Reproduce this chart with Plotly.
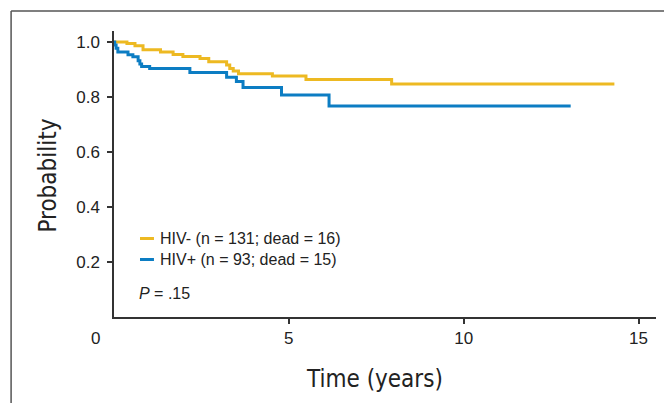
import plotly.graph_objects as go

# Kaplan-Meier step data
hiv_neg_t = [0.0, 0.37, 0.60, 0.83, 1.33, 1.69, 1.97, 2.46, 2.71, 3.22, 3.31, 3.41, 3.56, 4.53, 5.49, 7.94, 14.31]
hiv_neg_p = [1.0, 0.995, 0.986, 0.972, 0.964, 0.955, 0.947, 0.940, 0.928, 0.916, 0.904, 0.895, 0.885, 0.876, 0.864, 0.847, 0.847]

hiv_pos_t = [0.0, 0.02, 0.06, 0.11, 0.40, 0.54, 0.69, 0.74, 0.79, 1.02, 2.17, 3.22, 3.50, 3.69, 4.79, 6.15, 13.06]
hiv_pos_p = [1.0, 0.989, 0.977, 0.964, 0.954, 0.946, 0.932, 0.920, 0.911, 0.904, 0.889, 0.872, 0.856, 0.835, 0.807, 0.767, 0.767]

series_names = ["HIV- (n = 131; dead = 16)", "HIV+ (n = 93; dead = 15)"]
series_colors = ["#EDB922", "#0C7DC3"]

x_ticks = [5, 10, 15]
y_ticks = [0.2, 0.4, 0.6, 0.8, 1.0]
y_tick_labels = ["0.2", "0.4", "0.6", "0.8", "1.0"]

x_title = "Time (years)"
y_title = "Probability"
p_text = "<i>P</i> = .15"

W, H = 664, 403
ML, MR, MT, MB = 114, 7.5, 31, 86
pw = W - ML - MR
ph = H - MT - MB

def px_x(px):
    return (px - ML) / pw

def px_y(py):
    return (H - MB - py) / ph

fig = go.Figure()
for t, p, name, col in [(hiv_neg_t, hiv_neg_p, series_names[0], series_colors[0]),
                        (hiv_pos_t, hiv_pos_p, series_names[1], series_colors[1])]:
    fig.add_trace(go.Scatter(x=t, y=p, mode="lines", line=dict(shape="hv", color=col, width=3),
                             name=name, showlegend=False, hoverinfo="skip"))

axis_col = "#333333"
tick_font = dict(family="Liberation Sans, Arial, sans-serif", size=17, color="#222222")

fig.update_layout(
    width=W, height=H,
    margin=dict(l=ML, r=MR, t=MT, b=MB, pad=0),
    paper_bgcolor="white", plot_bgcolor="white",
    xaxis=dict(range=[0, 15.5], tickvals=x_ticks, ticks="outside", ticklen=5, tickwidth=1.5,
               tickcolor=axis_col, showline=True, linecolor=axis_col, linewidth=1.5,
               showgrid=False, zeroline=False, tickfont=tick_font),
    yaxis=dict(range=[0, 1.04], tickvals=y_ticks, ticktext=y_tick_labels, ticks="outside",
               ticklen=5, tickwidth=1.5, tickcolor=axis_col, showline=True, linecolor=axis_col,
               linewidth=1.5, showgrid=False, zeroline=False, tickfont=tick_font,
               ticklabelstandoff=4),
    showlegend=False,
)

title_font = dict(family="DejaVu Sans Condensed, Liberation Sans Narrow, Arial Narrow, sans-serif",
                  size=24, color="#222222")
txt_font = dict(family="Liberation Sans, Arial, sans-serif", size=16, color="#222222")

annotations = [
    dict(text=x_title, xref="paper", yref="paper", x=px_x(375), y=px_y(379), xanchor="center",
         yanchor="middle", showarrow=False, font=title_font),
    dict(text=y_title, xref="paper", yref="paper", x=px_x(47), y=px_y(175.5), xanchor="center",
         yanchor="middle", showarrow=False, font=title_font, textangle=-90),
    dict(text="0", xref="paper", yref="paper", x=px_x(95), y=px_y(338), xanchor="center",
         yanchor="middle", showarrow=False, font=tick_font),
    dict(text=series_names[0], xref="paper", yref="paper", x=px_x(158.5), y=px_y(238.5),
         xanchor="left", yanchor="middle", showarrow=False, font=txt_font),
    dict(text=series_names[1], xref="paper", yref="paper", x=px_x(158.5), y=px_y(259.5),
         xanchor="left", yanchor="middle", showarrow=False, font=txt_font),
    dict(text=p_text, xref="paper", yref="paper", x=px_x(137.5), y=px_y(293.5),
         xanchor="left", yanchor="middle", showarrow=False, font=txt_font),
]
fig.update_layout(annotations=annotations)

frame_col = "#555555"
shapes = [
    dict(type="line", xref="paper", yref="paper", x0=px_x(140), x1=px_x(154), y0=px_y(238.5), y1=px_y(238.5),
         line=dict(color=series_colors[0], width=3)),
    dict(type="line", xref="paper", yref="paper", x0=px_x(140), x1=px_x(154), y0=px_y(259.5), y1=px_y(259.5),
         line=dict(color=series_colors[1], width=3)),
    dict(type="line", xref="paper", yref="paper", x0=px_x(11), x1=px_x(11), y0=px_y(11), y1=px_y(404),
         line=dict(color=frame_col, width=1.5)),
    dict(type="line", xref="paper", yref="paper", x0=px_x(11), x1=px_x(665), y0=px_y(11), y1=px_y(11),
         line=dict(color=frame_col, width=1.5)),
]
fig.update_layout(shapes=shapes)

fig.write_html("out.html")
